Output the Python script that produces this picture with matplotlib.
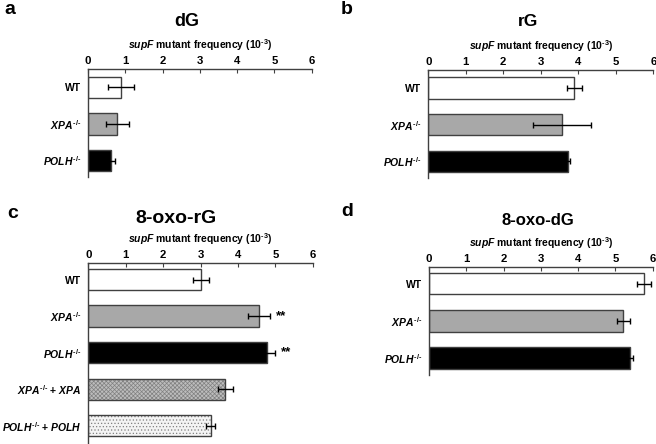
import matplotlib
matplotlib.use("Agg")
import matplotlib.pyplot as plt

plt.rcParams['font.family'] = ['Liberation Sans', 'DejaVu Sans']
plt.rcParams['font.weight'] = 'bold'
plt.rcParams['axes.labelweight'] = 'bold'
plt.rcParams['mathtext.fontset'] = 'custom'
plt.rcParams['mathtext.rm'] = 'Liberation Sans:bold'
plt.rcParams['mathtext.it'] = 'Liberation Sans:italic:bold'
plt.rcParams['mathtext.bf'] = 'Liberation Sans:bold'
plt.rcParams['hatch.linewidth'] = 0.5

# Datos
etiquetas = ['WT', r'$\mathit{XPA}^{\text{-/-}}$', r'$\mathit{POLH}^{\text{-/-}}$',
             r'$\mathit{XPA}^{\text{-/-}}$ + $\mathit{XPA}$',
             r'$\mathit{POLH}^{\text{-/-}}$ + $\mathit{POLH}$']

dG_val = [0.88, 0.78, 0.63]
dG_err = [0.35, 0.31, 0.10]
rG_val = [3.89, 3.57, 3.73]
rG_err = [0.20, 0.77, 0.06]
oxo_rG_val = [3.01, 4.57, 4.77, 3.66, 3.27]
oxo_rG_err = [0.21, 0.30, 0.22, 0.20, 0.11]
oxo_dG_val = [5.77, 5.21, 5.39]
oxo_dG_err = [0.18, 0.18, 0.09]
signif_rG = ['', '**', '**', '', '']

# estilos de barra
caras = ['white', '#a8a8a8', 'black', '#bdbdbd', '#f4f4f4']
tramas = [None, None, None, 'xxxxxxxx', '.....']

W, H = 656, 444
fig = plt.figure(figsize=(W / 100, H / 100), dpi=100)


def px_ax(left, right, top, bottom):
    return [left / W, 1 - bottom / H, (right - left) / W, (bottom - top) / H]


def panel(rect, vals, errs, ylim, titulo, tx, ty, tsize, letra, lx, ly, stars=None):
    ax = fig.add_axes(px_ax(*rect))
    n = len(vals)
    pos = list(range(n))
    for i in pos:
        if tramas[i] is None:
            ax.barh(i, vals[i], height=0.58, color=caras[i], edgecolor='#404040', linewidth=1)
        else:
            ax.barh(i, vals[i], height=0.58, color=caras[i], edgecolor='#808080',
                    hatch=tramas[i], linewidth=0)
            ax.barh(i, vals[i], height=0.58, fill=False, edgecolor='#404040', linewidth=1)
        ax.errorbar(vals[i], i, xerr=errs[i], fmt='none', ecolor='black',
                    elinewidth=1, capsize=2, capthick=1)
        if stars is not None and stars[i]:
            ax.text(vals[i] + errs[i] + 0.15, i, stars[i], ha='left', va='center',
                    fontsize=9.5, fontweight='bold')
    ax.set_xlim(0, 6)
    ax.set_ylim(*ylim)
    ax.set_yticks(pos)
    ax.set_yticklabels(etiquetas[:n], fontsize=7.5, fontweight='bold')
    ax.set_xticks(range(7))
    ax.set_xticklabels([str(v) for v in range(7)], fontsize=8.2, fontweight='bold')
    ax.xaxis.tick_top()
    ax.tick_params(axis='x', direction='in', length=3, pad=2, color='#404040')
    ax.tick_params(axis='y', length=0, pad=5)
    for s in ['right', 'bottom']:
        ax.spines[s].set_visible(False)
    for s in ['top', 'left']:
        ax.spines[s].set_color('#404040')
        ax.spines[s].set_linewidth(1)
    ax.xaxis.set_label_position('top')
    ax.set_xlabel(r'$\mathit{supF}$ mutant frequency (10$^{\text{-3}}$)', fontsize=7.5,
                  fontweight='bold', labelpad=5)
    fig.text(tx / W, 1 - ty / H, titulo, ha='center', va='center', fontsize=tsize, fontweight='bold')
    fig.text(lx / W, 1 - ly / H, letra, ha='left', va='center', fontsize=14, fontweight='bold')
    return ax


panel((88, 311.7, 69, 177), dG_val, dG_err, (2.45, -0.5), 'dG', 187, 21, 13, 'a', 4, 10)
panel((428.3, 653.3, 69.7, 178), rG_val, rG_err, (2.45, -0.5), 'rG', 528, 21, 12.5, 'b', 341, 10)
panel((88.3, 312.7, 262.7, 444), oxo_rG_val, oxo_rG_err, (4.5, -0.46), '8-oxo-rG', 176, 218, 14, 'c', 7, 213,
      stars=signif_rG)
panel((429, 652.7, 266.7, 375), oxo_dG_val, oxo_dG_err, (2.45, -0.45), '8-oxo-dG', 538, 220, 12, 'd', 341, 211)

fig.savefig('out.png', dpi=100)
